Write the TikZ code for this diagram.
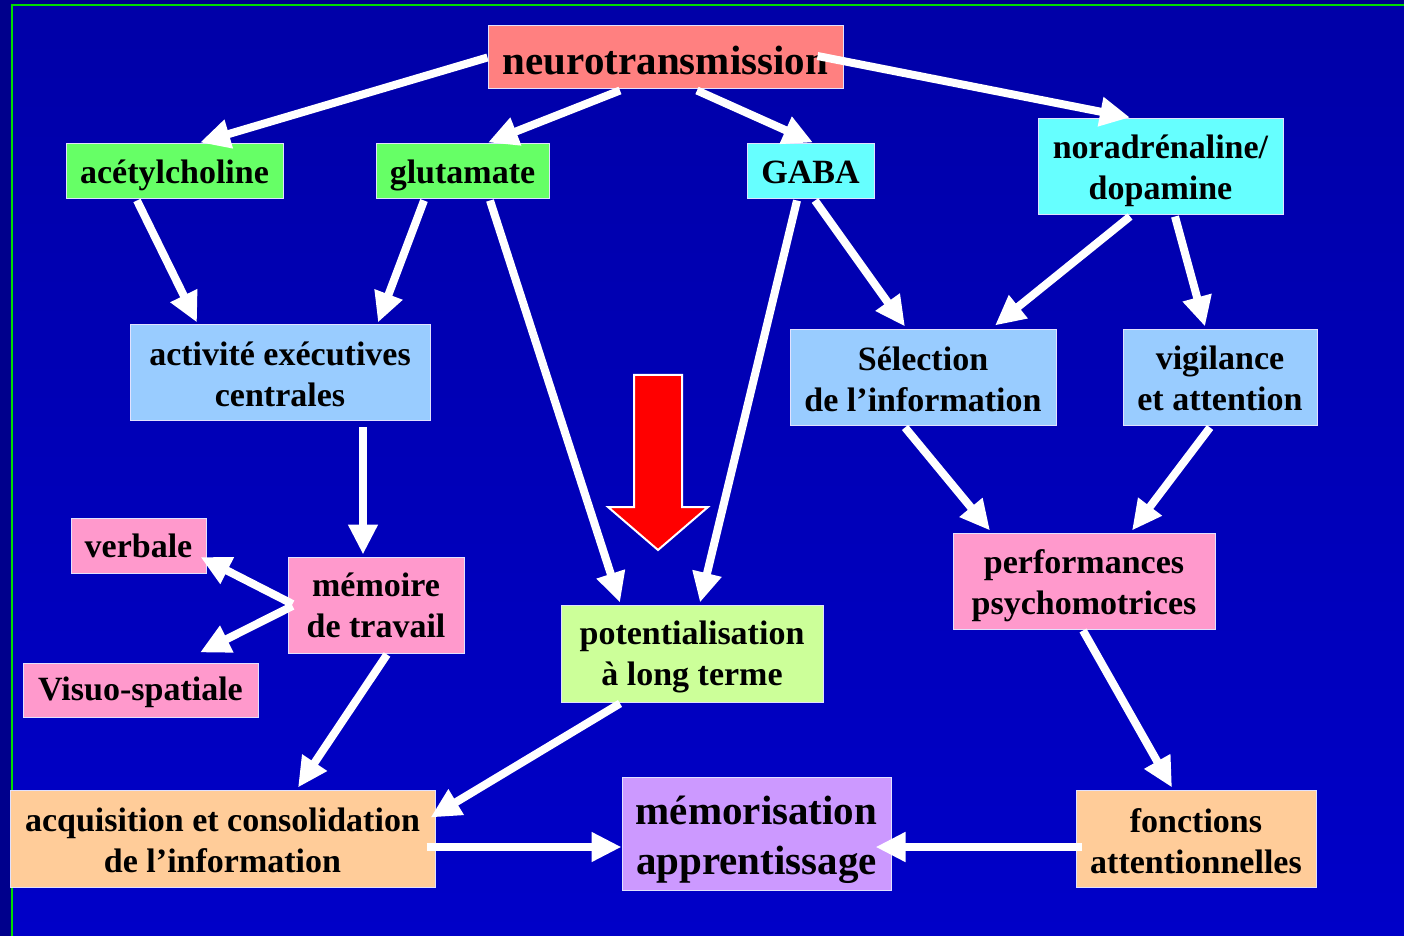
\documentclass[tikz,border=0pt]{standalone}
\usepackage{fontspec}
\setmainfont{Liberation Serif}
\usetikzlibrary{arrows.meta,calc}
\definecolor{bgTop}{RGB}{0,0,168}
\definecolor{bgMid}{RGB}{0,0,250}
\definecolor{bgBot}{RGB}{0,0,200}
\definecolor{bgOut}{RGB}{0,0,140}
\definecolor{frameGreen}{RGB}{0,220,0}
\definecolor{boxline}{RGB}{225,225,255}
\definecolor{cSalmon}{RGB}{255,128,128}
\definecolor{cGreen}{RGB}{102,255,102}
\definecolor{cCyan}{RGB}{102,255,255}
\definecolor{cLBlue}{RGB}{153,204,255}
\definecolor{cPink}{RGB}{255,153,204}
\definecolor{cLGreen}{RGB}{204,255,153}
\definecolor{cPeach}{RGB}{255,204,153}
\definecolor{cLav}{RGB}{204,153,255}
\newcommand\vstr[1]{\rule{0pt}{#1}}
\begin{document}
\begin{tikzpicture}[x=0.5pt,y=-0.5pt,
  box/.style={draw=boxline, line width=0.5pt, inner sep=0pt, align=center,
    font=\fontsize{17}{20.5}\selectfont\bfseries},
  bigbox/.style={box, font=\fontsize{20.5}{25}\selectfont\bfseries},
  conn/.style={draw=white, line width=4pt, -{Triangle[length=15pt,width=14pt]}}]
\useasboundingbox (0,0) rectangle (1404,936);
\fill[bgOut] (0,0) rectangle (1404,936);
\shade[top color=bgTop, middle color=bgMid, bottom color=bgBot] (12,5) rectangle (1404,936);
\draw[frameGreen, line width=1pt] (12,936) -- (12,5) -- (1404,5);

% nodes
\node[bigbox, fill=cSalmon, minimum width=177.5pt, minimum height=31.5pt] (neuro) at (665.5,57.5) {\vstr{16.9pt}neurotransmission};
\node[box, fill=cGreen, minimum width=108.5pt, minimum height=27.5pt] (acet) at (174.5,171.5) {\vstr{16.1pt}acétylcholine};
\node[box, fill=cGreen, minimum width=86.5pt, minimum height=27.5pt] (glut) at (462.5,171.5) {\vstr{15.5pt}glutamate};
\node[box, fill=cCyan, minimum width=63.5pt, minimum height=27.5pt] (gaba) at (810.5,171.5) {\vstr{12.3pt}GABA};
\node[box, fill=cCyan, minimum width=122.5pt, minimum height=48pt] (nora) at (1160.5,167) {\vstr{16.1pt}noradrénaline/\\dopamine};
\node[box, fill=cLBlue, minimum width=150pt, minimum height=48pt] (activ) at (280,373) {\vstr{13.1pt}activité exécutives\\centrales};
\node[box, fill=cLBlue, minimum width=133pt, minimum height=48pt] (selec) at (923,378) {\vstr{13.1pt}Sélection\\de l’information};
\node[box, fill=cLBlue, minimum width=97pt, minimum height=48pt] (vigil) at (1220,378) {\vstr{12.5pt}vigilance\\et attention};
\node[box, fill=cPink, minimum width=67.5pt, minimum height=27.5pt] (verb) at (138.5,545.5) {verbale};
\node[box, fill=cPink, minimum width=88pt, minimum height=48pt] (memt) at (376,605) {mémoire\\de travail};
\node[box, fill=cPink, minimum width=117.5pt, minimum height=27pt] (visuo) at (140.5,690) {\vstr{14.5pt}Visuo-spatiale};
\node[box, fill=cLGreen, minimum width=131pt, minimum height=48.5pt] (poten) at (692,653.5) {\vstr{15.5pt}potentialisation\\à long terme};
\node[box, fill=cPink, minimum width=131pt, minimum height=48pt] (perf) at (1084,581) {\vstr{16.7pt}performances\\psychomotrices};
\node[box, fill=cPeach, minimum width=212.5pt, minimum height=48.5pt] (acq) at (222.5,838.5) {\vstr{14pt}acquisition et consolidation\\de l’information};
\node[bigbox, fill=cLav, minimum width=134.5pt, minimum height=56.5pt] (memo) at (756.5,833.5) {\vstr{20.6pt}mémorisation\\apprentissage};
\node[box, fill=cPeach, minimum width=120pt, minimum height=48.5pt] (fonc) at (1196,838.5) {\vstr{14.2pt}fonctions\\attentionnelles};

% red arrow
\draw[white, line width=1pt, fill=red] (634,375) -- (682,375) -- (682,507) -- (708,507) -- (658,550) -- (608,507) -- (634,507) -- cycle;

% connectors
\draw[conn] (neuro.west) -- ($(acet.north)+(25.5,-1)$);
\draw[conn] ($(neuro.south)+(-45.5,1)$) -- ($(glut.north)+(25.5,-1)$);
\draw[conn] ($(neuro.south)+(31.5,1)$) -- ($(gaba.north)+(2.5,-1)$);
\draw[conn] ($(neuro.east)+(-26,-1.5)$) -- ($(nora.north)+(-30.5,-1)$);
\draw[conn] ($(acet.south)+(-37.5,1)$) -- ($(activ.north)+(-83,-2)$);
\draw[conn] ($(glut.south)+(-38.5,1)$) -- ($(activ.north)+(98,-2)$);
\draw[conn] ($(glut.south)+(27.5,1)$) -- ($(poten.north)+(-72,-2)$);
\draw[conn] ($(gaba.south)+(-13.5,1)$) -- ($(poten.north)+(8,-2)$);
\draw[conn] ($(gaba.south)+(4.5,1)$) -- ($(selec.north)+(-18,-3)$);
\draw[conn] ($(nora.south)+(-30.5,1)$) -- ($(selec.north)+(72,-4)$);
\draw[conn] ($(nora.south)+(14.5,1)$) -- ($(vigil.north)+(-15,-3)$);
\draw[conn] ($(activ.south)+(83,6)$) -- ($(memt.north)+(-13,-2)$);
\draw[conn] ($(memt.west)+(5,-1)$) -- ($(verb.east)+(-6,11.5)$);
\draw[conn] ($(memt.west)+(5,1)$) -- ($(visuo.north)+(59.5,-10)$);
\draw[conn] ($(memt.south)+(11,1)$) -- ($(acq.north)+(75.5,-2)$);
\draw[conn] ($(poten.south)+(-72,1)$) -- ($(acq.north east)+(-5,28)$);
\draw[conn] ($(selec.south)+(-18,1)$) -- ($(perf.north)+(-94,-2)$);
\draw[conn] ($(vigil.south)+(-10,1)$) -- ($(perf.north)+(48,-2)$);
\draw[conn] ($(perf.south)+(-1,1)$) -- ($(fonc.north)+(-24,-2)$);
\draw[conn] ($(acq.east)+(-9,8.5)$) -- ($(memo.west)+(0,13.5)$);
\draw[conn] ($(fonc.west)+(6,8.5)$) -- ($(memo.east)+(-16,13.5)$);
\end{tikzpicture}
\end{document}
